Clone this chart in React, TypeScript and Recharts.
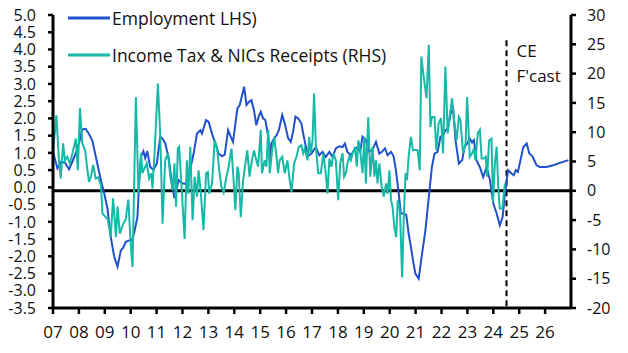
import React from 'react';
import { LineChart, Line, XAxis, YAxis, ReferenceLine, Legend } from 'recharts';

// [decimal year, % y/y] – Employment (LHS)
const employment: [number, number][] = [
  [2007.00, 1.03], [2007.17, 0.55], [2007.31, 0.74], [2007.46, 0.72], [2007.62, 0.52], [2007.75, 0.75],
  [2007.88, 0.99], [2008.01, 1.30], [2008.13, 1.68], [2008.26, 1.70], [2008.39, 1.55], [2008.52, 1.35],
  [2008.65, 0.90], [2008.78, 0.45], [2008.85, 0.20], [2008.97, -0.15], [2009.10, -0.60], [2009.23, -1.44],
  [2009.36, -2.00], [2009.49, -2.30], [2009.62, -1.83], [2009.71, -1.75], [2009.81, -1.58], [2009.94, -1.54],
  [2010.04, -1.55], [2010.13, -1.33], [2010.26, -0.86], [2010.33, 0.20], [2010.40, 0.90], [2010.49, 1.05],
  [2010.56, 0.85], [2010.64, 1.05], [2010.75, 0.60], [2010.88, 0.50], [2011.01, 0.70], [2011.14, 1.47],
  [2011.24, 1.40], [2011.33, 1.28], [2011.46, 0.88], [2011.59, 0.12], [2011.69, -0.32], [2011.85, 0.21],
  [2011.98, 0.12], [2012.11, 0.10], [2012.23, 0.30], [2012.43, 0.98], [2012.56, 1.56], [2012.69, 1.66],
  [2012.75, 1.56], [2012.91, 1.95], [2013.01, 1.90], [2013.14, 1.56], [2013.27, 1.27], [2013.39, 0.98],
  [2013.53, 0.90], [2013.63, 0.95], [2013.76, 1.66], [2013.86, 1.47], [2013.95, 1.32], [2014.12, 2.29],
  [2014.21, 2.39], [2014.38, 2.92], [2014.47, 2.39], [2014.56, 2.48], [2014.66, 2.53], [2014.76, 2.24],
  [2014.85, 1.80], [2014.94, 2.05], [2015.02, 2.19], [2015.11, 2.00], [2015.20, 1.95], [2015.31, 1.47],
  [2015.37, 0.79], [2015.43, 1.27], [2015.54, 1.42], [2015.63, 1.51], [2015.72, 1.66], [2015.85, 2.10],
  [2015.95, 1.85], [2016.08, 1.42], [2016.18, 1.32], [2016.27, 1.61], [2016.36, 2.05], [2016.47, 2.00],
  [2016.59, 1.85], [2016.66, 1.56], [2016.79, 1.08], [2016.88, 0.93], [2016.98, 0.98], [2017.06, 1.08],
  [2017.15, 1.17], [2017.28, 0.93], [2017.41, 1.03], [2017.53, 0.88], [2017.67, 1.03], [2017.79, 0.88],
  [2017.92, 1.13], [2018.05, 1.19], [2018.18, 1.17], [2018.27, 1.27], [2018.37, 1.03], [2018.50, 0.93],
  [2018.63, 1.08], [2018.76, 1.17], [2018.86, 1.03], [2018.95, 1.47], [2019.08, 1.37], [2019.21, 1.03],
  [2019.34, 1.10], [2019.47, 1.32], [2019.60, 0.98], [2019.70, 1.03], [2019.82, 1.13], [2019.92, 0.93],
  [2020.05, 1.03], [2020.15, 0.90], [2020.24, 0.50], [2020.35, -0.18], [2020.43, -0.76], [2020.54, -0.76],
  [2020.64, -0.80], [2020.73, -1.34], [2020.82, -1.73], [2020.90, -2.12], [2020.99, -2.50], [2021.12, -2.65],
  [2021.25, -1.92], [2021.38, -1.24], [2021.51, -0.28], [2021.63, 0.59], [2021.73, 0.98], [2021.85, 1.03],
  [2021.96, 1.47], [2022.06, 1.51], [2022.15, 1.66], [2022.24, 1.70], [2022.35, 2.14], [2022.45, 2.29],
  [2022.54, 1.37], [2022.67, 0.69], [2022.80, 0.79], [2022.89, 1.17], [2022.99, 1.27], [2023.09, 1.42],
  [2023.18, 1.30], [2023.25, 1.37], [2023.35, 0.79], [2023.48, 0.59], [2023.61, 0.30], [2023.74, 0.59],
  [2023.87, 0.21], [2024.00, -0.47], [2024.13, -0.76], [2024.25, -1.10], [2024.36, -0.86], [2024.45, -0.18],
  [2024.57, 0.50], [2024.70, 0.40], [2024.79, 0.35], [2024.87, 0.50], [2024.95, 0.45], [2025.05, 0.79],
  [2025.16, 1.17], [2025.29, 1.27], [2025.39, 0.98], [2025.51, 0.90], [2025.67, 0.64], [2025.80, 0.59],
  [2026.06, 0.59], [2026.32, 0.64], [2026.57, 0.71], [2026.90, 0.79],
];

// [decimal year, % y/y] – Income Tax & NICs Receipts (RHS)
const taxReceipts: [number, number][] = [
  [2007.00, 6.4], [2007.13, 12.9], [2007.23, 5.2], [2007.30, 2.1], [2007.39, 8.1], [2007.46, 5.2],
  [2007.55, 5.8], [2007.65, 4.7], [2007.75, 6.4], [2007.88, 8.9], [2007.96, 3.5], [2008.04, 14.1],
  [2008.13, 8.1], [2008.24, 6.9], [2008.33, 3.5], [2008.39, 1.5], [2008.47, 2.5], [2008.55, 4.4],
  [2008.65, 2.1], [2008.74, 2.3], [2008.85, 1.0], [2008.91, -3.9], [2009.04, -4.5], [2009.11, -4.8],
  [2009.23, -7.9], [2009.32, -1.3], [2009.43, -7.9], [2009.49, -2.7], [2009.58, -7.3], [2009.71, -5.6],
  [2009.80, -5.0], [2009.91, -1.5], [2009.99, -8.4], [2010.07, -13.0], [2010.20, 16.0], [2010.30, -0.5],
  [2010.40, 6.4], [2010.45, 3.0], [2010.56, 4.1], [2010.62, 4.7], [2010.71, 2.1], [2010.79, 3.0],
  [2010.84, 0.4], [2010.92, 6.4], [2011.05, 18.3], [2011.14, 9.5], [2011.23, -5.6], [2011.33, 5.2],
  [2011.44, 6.4], [2011.53, 2.4], [2011.62, 0.1], [2011.69, 4.7], [2011.75, -2.7], [2011.82, 7.2],
  [2011.87, 7.5], [2011.98, -0.5], [2012.08, -8.2], [2012.17, 5.2], [2012.23, -0.5], [2012.30, 7.5],
  [2012.39, -5.0], [2012.47, 2.4], [2012.56, -1.0], [2012.62, 3.5], [2012.71, -0.5], [2012.81, -6.7],
  [2012.91, 3.0], [2012.98, 3.2], [2013.03, -0.5], [2013.14, 1.25], [2013.24, 8.6], [2013.33, 7.5],
  [2013.42, 3.5], [2013.50, 0.7], [2013.59, -0.3], [2013.67, 1.8], [2013.78, 4.1], [2013.89, 7.2],
  [2013.99, 0.7], [2014.04, -3.3], [2014.12, 4.1], [2014.17, 3.0], [2014.25, -4.5], [2014.34, 1.8],
  [2014.43, 4.7], [2014.50, 6.9], [2014.59, 2.4], [2014.66, 4.7], [2014.76, 6.9], [2014.85, 5.2],
  [2014.92, 4.1], [2015.02, 10.4], [2015.07, 3.0], [2015.17, 5.2], [2015.24, 4.1], [2015.31, 10.4],
  [2015.37, 3.0], [2015.46, 6.9], [2015.54, 9.2], [2015.63, 5.8], [2015.69, 3.0], [2015.75, 5.2],
  [2015.85, 5.8], [2015.95, 3.0], [2016.05, 5.2], [2016.14, 1.8], [2016.21, -0.2], [2016.31, 4.7],
  [2016.40, 5.8], [2016.49, 7.5], [2016.59, 7.8], [2016.66, 6.4], [2016.72, 7.2], [2016.83, 5.2],
  [2016.89, 9.2], [2016.95, 6.4], [2017.02, 8.6], [2017.08, 16.6], [2017.15, 7.5], [2017.24, 3.0],
  [2017.34, 3.0], [2017.44, 6.4], [2017.53, 3.0], [2017.60, -0.5], [2017.67, 5.5], [2017.75, 4.1],
  [2017.83, 6.4], [2017.92, 5.2], [2018.01, -1.6], [2018.09, 4.7], [2018.18, 6.4], [2018.24, 2.4],
  [2018.31, 3.0], [2018.37, 4.7], [2018.44, 5.8], [2018.50, 5.2], [2018.57, 6.4], [2018.66, 7.5],
  [2018.73, 4.1], [2018.79, 8.6], [2018.86, 6.9], [2018.95, 3.0], [2019.02, 9.2], [2019.08, 1.25],
  [2019.17, 12.6], [2019.25, 2.4], [2019.34, 7.5], [2019.41, 2.4], [2019.47, 5.2], [2019.53, 1.25],
  [2019.60, 4.7], [2019.69, 0.7], [2019.77, -1.0], [2019.86, 1.25], [2019.92, -0.5], [2019.99, 3.5],
  [2020.05, -1.6], [2020.11, -2.7], [2020.18, -6.2], [2020.25, -7.9], [2020.31, -1.6], [2020.37, -2.7],
  [2020.40, -3.9], [2020.48, -14.8], [2020.54, -5.0], [2020.61, 3.0], [2020.67, 1.8], [2020.73, 5.8],
  [2020.82, 9.2], [2020.90, 6.9], [2020.99, 7.0], [2021.08, 6.9], [2021.16, 3.5], [2021.22, 22.9],
  [2021.31, 19.5], [2021.42, 15.8], [2021.51, 24.9], [2021.57, 10.9], [2021.63, 12.6], [2021.73, 12.6],
  [2021.80, 6.9], [2021.89, 11.5], [2021.98, 12.4], [2022.06, 6.4], [2022.15, 21.2], [2022.24, 9.8],
  [2022.32, 12.9], [2022.41, 15.8], [2022.47, 12.6], [2022.58, 8.6], [2022.67, 12.6], [2022.73, 12.1],
  [2022.83, 6.4], [2022.93, 8.1], [2022.99, 16.0], [2023.09, 5.8], [2023.18, 6.4], [2023.25, 7.2],
  [2023.31, 5.2], [2023.40, 9.8], [2023.48, 10.4], [2023.55, 5.5], [2023.63, 5.5], [2023.71, 5.8],
  [2023.76, 2.4], [2023.84, 8.6], [2023.93, 8.9], [2023.99, -1.9], [2024.06, 4.7], [2024.13, 7.5],
  [2024.19, 0.7], [2024.25, -3.0], [2024.35, -3.0], [2024.45, 1.25],
];

const leftTicks = [-3.5, -3, -2.5, -2, -1.5, -1, -0.5, 0, 0.5, 1, 1.5, 2, 2.5, 3, 3.5, 4, 4.5, 5];
const rightTicks = [-20, -15, -10, -5, 0, 5, 10, 15, 20, 25, 30];
const yearTicks = [2007, 2008, 2009, 2010, 2011, 2012, 2013, 2014, 2015, 2016, 2017, 2018, 2019, 2020, 2021, 2022, 2023, 2024, 2025, 2026];
const yearLabels = ['07', '08', '09', '10', '11', '12', '13', '14', '15', '16', '17', '18', '19', '20', '21', '22', '23', '24', '25', '26'];
const seriesNames = ['Employment LHS)', 'Income Tax & NICs Receipts (RHS)'];
const forecastStart = 2024.51;
const forecastLabel = ['CE', "F'cast"];

const BLUE = '#2050CC';
const TEAL = '#16B8A6';
const FONT = "'Open Sans', sans-serif";

const empData = employment.map(([x, v]) => ({ x, v }));
const taxData = taxReceipts.map(([x, v]) => ({ x, v }));

const LegendContent = () => (
  <svg width={420} height={70} style={{ display: 'block' }}>
    {[BLUE, TEAL].map((c, i) => (
      <g key={i}>
        <line x1={68} x2={110} y1={18 + i * 37} y2={18 + i * 37} stroke={c} strokeWidth={3} />
        <text x={112} y={25 + i * 37} fontSize={17.5} fontFamily={FONT} fill="#111">
          {seriesNames[i]}
        </text>
      </g>
    ))}
  </svg>
);

const ForecastLabel = (props: any) => {
  const vb = props.viewBox || {};
  return (
    <g>
      <text x={vb.x + 10} y={vb.y + 17} fontSize={17} fontFamily={FONT} fill="#111">{forecastLabel[0]}</text>
      <text x={vb.x + 10} y={vb.y + 42} fontSize={17} fontFamily={FONT} fill="#111">{forecastLabel[1]}</text>
    </g>
  );
};

export default function App() {
  return (
    <div style={{ position: 'absolute', left: 0, top: 0, width: 628, height: 353, background: '#fff' }}>
      <LineChart width={628} height={353} margin={{ top: 15, right: 0, left: 0, bottom: 0 }} style={{ fontFamily: FONT }}>
        <XAxis
          dataKey="x"
          type="number"
          domain={[2007, 2027]}
          ticks={yearTicks}
          interval={0}
          allowDuplicatedCategory={false}
          tickFormatter={(v: number) => yearLabels[yearTicks.indexOf(v)]}
          height={45}
          tickSize={6}
          tickMargin={12}
          axisLine={{ stroke: '#000', strokeWidth: 3 }}
          tickLine={{ stroke: '#000', strokeWidth: 2.5 }}
          tick={{ fill: '#111', fontSize: 17, fontFamily: FONT }}
        />
        <YAxis
          yAxisId="left"
          domain={[-3.5, 5]}
          ticks={leftTicks}
          interval={0}
          width={53}
          tickSize={5}
          tickMargin={12}
          tickFormatter={(v: number) => v.toFixed(1)}
          axisLine={{ stroke: '#000', strokeWidth: 3 }}
          tickLine={{ stroke: '#000', strokeWidth: 2.5 }}
          tick={{ fill: '#111', fontSize: 16, fontFamily: FONT }}
        />
        <YAxis
          yAxisId="right"
          orientation="right"
          domain={[-20, 30]}
          ticks={rightTicks}
          interval={0}
          width={57}
          tickSize={5}
          tickMargin={11}
          axisLine={{ stroke: '#000', strokeWidth: 3 }}
          tickLine={{ stroke: '#000', strokeWidth: 2.5 }}
          tick={{ fill: '#111', fontSize: 16, fontFamily: FONT }}
        />
        <ReferenceLine yAxisId="right" y={0} stroke="#000" strokeWidth={3} />
        <ReferenceLine
          yAxisId="right"
          segment={[{ x: forecastStart, y: 25.7 }, { x: forecastStart, y: -20 }]}
          stroke="#000"
          strokeWidth={2}
          strokeDasharray="6 4"
          label={<ForecastLabel />}
        />
        <Line
          data={empData}
          yAxisId="left"
          dataKey="v"
          name={seriesNames[0]}
          type="linear"
          stroke={BLUE}
          strokeWidth={2}
          dot={false}
          isAnimationActive={false}
        />
        <Line
          data={taxData}
          yAxisId="right"
          dataKey="v"
          name={seriesNames[1]}
          type="linear"
          stroke={TEAL}
          strokeWidth={2}
          dot={false}
          isAnimationActive={false}
        />
        <Legend
          layout="horizontal"
          verticalAlign="middle"
          align="center"
          content={<LegendContent />}
          wrapperStyle={{ position: 'absolute', left: 0, top: 0, width: 420, height: 70 }}
        />
      </LineChart>
    </div>
  );
}
